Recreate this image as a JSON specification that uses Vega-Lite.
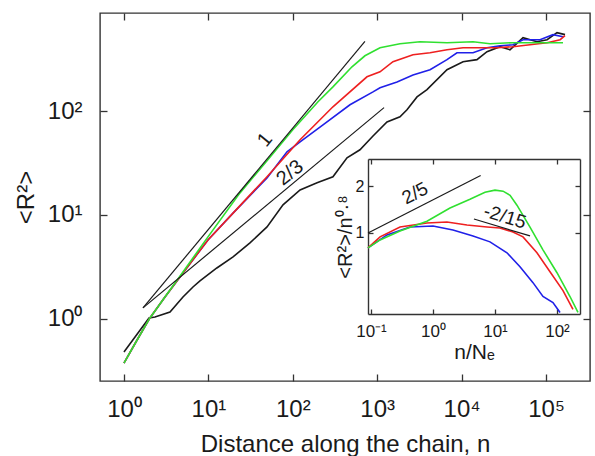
{
  "$schema": "https://vega.github.io/schema/vega-lite/v6.json",
  "width": 490,
  "height": 368,
  "autosize": {"type": "none"},
  "padding": {"left": 100, "top": 13, "right": 5, "bottom": 75},
  "background": "white",
  "config": {
    "view": {"stroke": "#333333", "strokeWidth": 1.4},
    "font": "Liberation Sans",
    "axis": {"labelFont": "Liberation Sans", "titleFont": "Liberation Sans", "titleFontWeight": "normal", "labelColor": "#1a1a1a", "titleColor": "#1a1a1a", "tickColor": "#333333", "domainColor": "#333333", "grid": false, "tickWidth": 1.3, "domainWidth": 1.4}
  },
  "datasets": {
    "main": [
      {"curve":"black","n":1,"R2":0.477},{"curve":"black","n":1.98,"R2":1.016},{"curve":"black","n":2.33,"R2":1.04},{"curve":"black","n":3.51,"R2":1.16},{"curve":"black","n":5.0,"R2":1.62},{"curve":"black","n":6.57,"R2":2.02},{"curve":"black","n":7.95,"R2":2.31},{"curve":"black","n":12.6,"R2":3.08},{"curve":"black","n":19.6,"R2":3.94},{"curve":"black","n":31.1,"R2":5.37},{"curve":"black","n":49.5,"R2":7.66},{"curve":"black","n":76.6,"R2":12.5},{"curve":"black","n":122,"R2":17.4},{"curve":"black","n":194,"R2":20.4},{"curve":"black","n":299,"R2":23.3},{"curve":"black","n":439,"R2":35.5},{"curve":"black","n":625,"R2":42.4},{"curve":"black","n":892,"R2":57.5},{"curve":"black","n":1306,"R2":78.7},{"curve":"black","n":1862,"R2":88.2},{"curve":"black","n":2254,"R2":103},{"curve":"black","n":2963,"R2":137},{"curve":"black","n":3890,"R2":161},{"curve":"black","n":6714,"R2":250},{"curve":"black","n":10400,"R2":299},{"curve":"black","n":15200,"R2":313},{"curve":"black","n":20000,"R2":373},{"curve":"black","n":28500,"R2":417},{"curve":"black","n":37400,"R2":390},{"curve":"black","n":53400,"R2":509},{"curve":"black","n":78200,"R2":466},{"curve":"black","n":103000,"R2":487},{"curve":"black","n":135000,"R2":569},{"curve":"black","n":168000,"R2":545},
      {"curve":"blue","n":1,"R2":0.374},{"curve":"blue","n":1.43,"R2":0.623},{"curve":"blue","n":2.03,"R2":1.016},{"curve":"blue","n":3.06,"R2":1.62},{"curve":"blue","n":5.0,"R2":2.76},{"curve":"blue","n":9.89,"R2":5.74},{"curve":"blue","n":19.6,"R2":10.4},{"curve":"blue","n":49.5,"R2":22.7},{"curve":"blue","n":85.4,"R2":40.5},{"curve":"blue","n":122,"R2":50.6},{"curve":"blue","n":228,"R2":73.8},{"curve":"blue","n":476,"R2":115},{"curve":"blue","n":892,"R2":153},{"curve":"blue","n":1080,"R2":168},{"curve":"blue","n":1718,"R2":191},{"curve":"blue","n":2655,"R2":223},{"curve":"blue","n":4227,"R2":250},{"curve":"blue","n":6714,"R2":313},{"curve":"blue","n":8810,"R2":365},{"curve":"blue","n":13650,"R2":365},{"curve":"blue","n":20000,"R2":408},{"curve":"blue","n":28500,"R2":426},{"curve":"blue","n":40600,"R2":436},{"curve":"blue","n":53400,"R2":487},{"curve":"blue","n":84900,"R2":487},{"curve":"blue","n":121000,"R2":545},{"curve":"blue","n":159000,"R2":520},
      {"curve":"red","n":1,"R2":0.374},{"curve":"red","n":1.43,"R2":0.623},{"curve":"red","n":2.03,"R2":1.016},{"curve":"red","n":3.06,"R2":1.62},{"curve":"red","n":5.0,"R2":2.76},{"curve":"red","n":9.89,"R2":5.74},{"curve":"red","n":19.6,"R2":10.4},{"curve":"red","n":49.5,"R2":23.3},{"curve":"red","n":122,"R2":52.9},{"curve":"red","n":299,"R2":110},{"curve":"red","n":757,"R2":214},{"curve":"red","n":1080,"R2":239},{"curve":"red","n":1538,"R2":299},{"curve":"red","n":2655,"R2":349},{"curve":"red","n":4227,"R2":365},{"curve":"red","n":6714,"R2":390},{"curve":"red","n":10400,"R2":408},{"curve":"red","n":16500,"R2":408},{"curve":"red","n":26200,"R2":408},{"curve":"red","n":40600,"R2":417},{"curve":"red","n":64600,"R2":436},{"curve":"red","n":103000,"R2":456},{"curve":"red","n":147000,"R2":487},{"curve":"red","n":168000,"R2":532},
      {"curve":"green","n":1,"R2":0.374},{"curve":"green","n":1.43,"R2":0.623},{"curve":"green","n":2.03,"R2":1.016},{"curve":"green","n":3.06,"R2":1.62},{"curve":"green","n":5.0,"R2":2.82},{"curve":"green","n":9.89,"R2":6.14},{"curve":"green","n":23.7,"R2":16.3},{"curve":"green","n":49.5,"R2":33.2},{"curve":"green","n":100,"R2":66.1},{"curve":"green","n":199,"R2":123},{"curve":"green","n":299,"R2":171},{"curve":"green","n":503,"R2":267},{"curve":"green","n":716,"R2":341},{"curve":"green","n":1080,"R2":408},{"curve":"green","n":1862,"R2":446},{"curve":"green","n":3214,"R2":466},{"curve":"green","n":6714,"R2":456},{"curve":"green","n":13650,"R2":466},{"curve":"green","n":21700,"R2":446},{"curve":"green","n":40600,"R2":456},{"curve":"green","n":84900,"R2":456},{"curve":"green","n":159000,"R2":456}
    ],
    "mainRefs": [
      {"line":"1","n":1.68,"R2":1.27},{"line":"1","n":716,"R2":469},
      {"line":"2/3","n":1.68,"R2":1.27},{"line":"2/3","n":1205,"R2":108}
    ],
    "inset": [
      {"curve":"blue","x":0.0895,"y":0.801},{"curve":"blue","x":0.181,"y":0.971},{"curve":"blue","x":0.426,"y":1.093},{"curve":"blue","x":1.0,"y":1.109},{"curve":"blue","x":2.10,"y":1.045},{"curve":"blue","x":4.42,"y":0.957},{"curve":"blue","x":8.30,"y":0.876},{"curve":"blue","x":15.6,"y":0.745},{"curve":"blue","x":25.3,"y":0.605},{"curve":"blue","x":41.0,"y":0.478},{"curve":"blue","x":59.4,"y":0.389},{"curve":"blue","x":86.1,"y":0.356},{"curve":"blue","x":112,"y":0.307},
      {"curve":"red","x":0.0895,"y":0.801},{"curve":"red","x":0.140,"y":0.943},{"curve":"red","x":0.294,"y":1.093},{"curve":"red","x":0.800,"y":1.159},{"curve":"red","x":1.68,"y":1.176},{"curve":"red","x":3.53,"y":1.125},{"curve":"red","x":7.43,"y":1.093},{"curve":"red","x":12.0,"y":1.076},{"curve":"red","x":19.5,"y":1.015},{"curve":"red","x":28.3,"y":0.943},{"curve":"red","x":47.5,"y":0.745},{"curve":"red","x":77.1,"y":0.562},{"curve":"red","x":125,"y":0.425},{"curve":"red","x":181,"y":0.321},
      {"curve":"green","x":0.0895,"y":0.801},{"curve":"green","x":0.140,"y":0.902},{"curve":"green","x":0.294,"y":1.03},{"curve":"green","x":0.800,"y":1.19},{"curve":"green","x":1.88,"y":1.45},{"curve":"green","x":3.95,"y":1.65},{"curve":"green","x":6.90,"y":1.83},{"curve":"green","x":10.0,"y":1.89},{"curve":"green","x":13.5,"y":1.86},{"curve":"green","x":17.5,"y":1.75},{"curve":"green","x":22.6,"y":1.51},{"curve":"green","x":36.7,"y":1.09},{"curve":"green","x":59.4,"y":0.778},{"curve":"green","x":100,"y":0.554},{"curve":"green","x":162,"y":0.389},{"curve":"green","x":218,"y":0.307}
    ],
    "insetRefs": [
      {"line":"2/5","x":0.0895,"y":1.0},{"line":"2/5","x":5.87,"y":2.35},
      {"line":"-2/15","x":4.58,"y":1.23},{"line":"-2/15","x":36.7,"y":0.957}
    ]
  },
  "layer": [
    {
      "layer": [
        {
          "data": {"name": "main"},
          "mark": {"type": "line", "strokeWidth": 1.6, "clip": true},
          "encoding": {
            "x": {"field": "n", "type": "quantitative", "scale": {"type": "log", "domain": [0.52, 332000], "nice": false},
              "axis": {"orient": "bottom", "values": [1, 10, 100, 1000, 10000, 100000], "labelExpr": "'10' + ['⁰','¹','²','³','⁴','⁵'][round(log(datum.value)/LN10)]", "tickSize": -7, "labelPadding": 23, "labelFontSize": 24, "domain": false, "title": "Distance along the chain, n", "titleFontSize": 24, "titlePadding": 11}},
            "y": {"field": "R2", "type": "quantitative", "scale": {"type": "log", "domain": [0.251, 881], "nice": false},
              "axis": {"orient": "left", "values": [1, 10, 100], "labelExpr": "'10' + ['⁰','¹','²'][round(log(datum.value)/LN10)]", "tickSize": -7, "labelPadding": 25, "labelFontSize": 24, "domain": false, "title": "<R²>", "titleFontSize": 24, "titlePadding": 9}},
            "color": {"field": "curve", "type": "nominal", "sort": null, "scale": {"domain": ["black", "blue", "red", "green"], "range": ["#1a1a1a", "#2020e8", "#ee2020", "#30e030"]}, "legend": null}
          }
        },
        {
          "data": {"name": "mainRefs"},
          "mark": {"type": "line", "color": "#1a1a1a", "strokeWidth": 1.2},
          "encoding": {
            "x": {"field": "n", "type": "quantitative", "scale": {"type": "log"}, "axis": {"orient": "top", "values": [1, 10, 100, 1000, 10000, 100000], "labels": false, "domain": false, "tickSize": -7, "title": null}},
            "y": {"field": "R2", "type": "quantitative", "scale": {"type": "log"}, "axis": {"orient": "right", "values": [1, 10, 100], "labels": false, "domain": false, "tickSize": -7, "title": null}},
            "detail": {"field": "line", "type": "nominal"}
          }
        },
        {
          "data": {"values": [{"n": 46.9, "R2": 52.9, "label": "1"}]},
          "mark": {"type": "text", "angle": 309, "fontSize": 20, "color": "#1a1a1a", "font": "Liberation Sans"},
          "encoding": {
            "x": {"field": "n", "type": "quantitative", "scale": {"type": "log"}, "axis": null},
            "y": {"field": "R2", "type": "quantitative", "scale": {"type": "log"}, "axis": null},
            "text": {"field": "label"}
          }
        },
        {
          "data": {"values": [{"n": 92.7, "R2": 25.4, "label": "2/3"}]},
          "mark": {"type": "text", "angle": 321, "fontSize": 20, "color": "#1a1a1a", "font": "Liberation Sans"},
          "encoding": {
            "x": {"field": "n", "type": "quantitative", "scale": {"type": "log"}, "axis": null},
            "y": {"field": "R2", "type": "quantitative", "scale": {"type": "log"}, "axis": null},
            "text": {"field": "label"}
          }
        }
      ],
      "resolve": {"axis": {"x": "independent", "y": "independent"}}
    },
    {
      "layer": [
        {
          "data": {"name": "inset"},
          "mark": {"type": "line", "strokeWidth": 1.6},
          "encoding": {
            "x": {"field": "x", "type": "quantitative", "scale": {"type": "log", "domain": [0.0895, 235], "range": [268, 480], "nice": false},
              "axis": {"orient": "bottom", "offset": -67, "values": [0.1, 1, 10, 100], "labelExpr": "'10' + ['⁻¹','⁰','¹','²'][round(log(datum.value)/LN10)+1]", "tickSize": -5, "labelPadding": 14, "labelFontSize": 17, "title": "n/Nₑ", "titleFontSize": 21, "titlePadding": 2}},
            "y": {"field": "y", "type": "quantitative", "scale": {"type": "log", "domain": [0.3, 3], "range": [301, 146], "nice": false},
              "axis": {"orient": "left", "offset": -268, "values": [1, 2], "format": "~g", "tickSize": -5, "labelPadding": 9, "labelFontSize": 16, "title": "<R²>/n⁰·⁸", "titleFontSize": 20, "titlePadding": 0}},
            "color": {"field": "curve", "type": "nominal", "sort": null, "scale": {"domain": ["black", "blue", "red", "green"], "range": ["#1a1a1a", "#2020e8", "#ee2020", "#30e030"]}, "legend": null}
          }
        },
        {
          "data": {"name": "insetRefs"},
          "mark": {"type": "line", "color": "#1a1a1a", "strokeWidth": 1.2},
          "encoding": {
            "x": {"field": "x", "type": "quantitative", "scale": {"type": "log"}, "axis": {"orient": "top", "offset": -146, "values": [0.1, 1, 10, 100], "labels": false, "tickSize": -5, "title": null}},
            "y": {"field": "y", "type": "quantitative", "scale": {"type": "log"}, "axis": {"orient": "right", "offset": -10, "values": [1, 2], "labels": false, "tickSize": -5, "title": null}},
            "detail": {"field": "line", "type": "nominal"}
          }
        },
        {
          "data": {"values": [{"x": 0.513, "y": 1.80, "label": "2/5"}]},
          "mark": {"type": "text", "angle": 333, "fontSize": 19, "color": "#1a1a1a", "font": "Liberation Sans"},
          "encoding": {
            "x": {"field": "x", "type": "quantitative", "scale": {"type": "log"}, "axis": null},
            "y": {"field": "y", "type": "quantitative", "scale": {"type": "log"}, "axis": null},
            "text": {"field": "label"}
          }
        },
        {
          "data": {"values": [{"x": 14.5, "y": 1.27, "label": "-2/15"}]},
          "mark": {"type": "text", "angle": 17, "fontSize": 19, "color": "#1a1a1a", "font": "Liberation Sans"},
          "encoding": {
            "x": {"field": "x", "type": "quantitative", "scale": {"type": "log"}, "axis": null},
            "y": {"field": "y", "type": "quantitative", "scale": {"type": "log"}, "axis": null},
            "text": {"field": "label"}
          }
        }
      ],
      "resolve": {"axis": {"x": "independent", "y": "independent"}}
    }
  ],
  "resolve": {"scale": {"x": "independent", "y": "independent"}, "axis": {"x": "independent", "y": "independent"}}
}
